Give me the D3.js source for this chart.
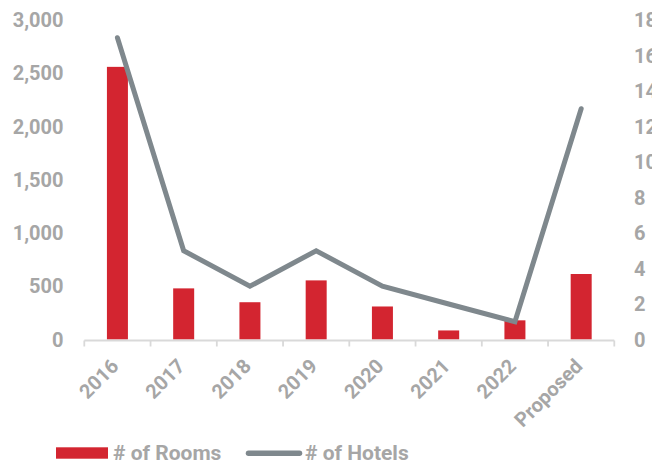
<!DOCTYPE html>
<html><head><meta charset="utf-8">
<script src="https://cdn.jsdelivr.net/npm/d3@7"></script>
<style>body{margin:0;background:#fff}svg{display:block}text{font-family:Roboto,"Liberation Sans",sans-serif;font-weight:bold;fill:#a6a6a6}</style>
</head><body><svg id="c" width="652" height="462"></svg>
<script>
const categories = ["2016","2017","2018","2019","2020","2021","2022","Proposed"];
const rooms = [2560, 480, 350, 555, 310, 85, 180, 615];
const hotels = [17, 5, 3, 5, 3, 2, 1, 13];
const roomTicks = [0,500,1000,1500,2000,2500,3000];
const hotelTicks = [0,2,4,6,8,10,12,14,16,18];

(function(){
const svg = d3.select("#c");
const pL = 84.3, pR = 614.3, pT = 20, pB = 339.5;
const x = d3.scaleBand().domain(categories).range([pL, pR]).paddingInner(0.683).paddingOuter(0.3415);
const xb = d3.scaleBand().domain(categories).range([pL, pR]);
const yL = d3.scaleLinear().domain([0,3000]).range([pB, pT]);
const yR = d3.scaleLinear().domain([0,18]).range([pB, pT]);

// bars
svg.append("g").selectAll("rect").data(rooms).join("rect")
  .attr("x",(d,i)=>x(categories[i])).attr("width",x.bandwidth())
  .attr("y",d=>yL(d)).attr("height",d=>pB-yL(d)).attr("fill","#d32530");

// x axis
const ax = svg.append("g");
ax.append("line").attr("x1",pL).attr("x2",pR).attr("y1",pB+1).attr("y2",pB+1).attr("stroke","#d9d9d9").attr("stroke-width",1.8);
const bounds = categories.map(c=>xb(c)).concat([pR]);
ax.selectAll("line.t").data(bounds).join("line").attr("class","t")
  .attr("x1",d=>d).attr("x2",d=>d).attr("y1",pB+1).attr("y2",pB+7).attr("stroke","#d9d9d9").attr("stroke-width",1.8);
ax.selectAll("text").data(categories).join("text")
  .attr("transform",d=>`translate(${xb(d)+xb.bandwidth()/2+2.5},${pB+28}) rotate(-45)`)
  .attr("text-anchor","end").attr("font-size",20).text(d=>d);

// left axis labels
svg.append("g").selectAll("text").data(roomTicks).join("text")
  .attr("x",63.5).attr("y",d=>yL(d)).attr("dy","0.36em").attr("text-anchor","end").attr("font-size",20)
  .text(d=>d3.format(",")(d));
// right axis labels
svg.append("g").selectAll("text").data(hotelTicks).join("text")
  .attr("x",634).attr("y",d=>yR(d)).attr("dy","0.36em").attr("text-anchor","start").attr("font-size",20)
  .text(d=>d);

// line
const line = d3.line().x((d,i)=>xb(categories[i])+xb.bandwidth()/2).y(d=>yR(d));
svg.append("path").datum(hotels).attr("d",line).attr("fill","none").attr("stroke","#7f888d")
  .attr("stroke-width",5).attr("stroke-linejoin","miter").attr("stroke-linecap","round");

// legend
const lg = svg.append("g");
lg.append("rect").attr("x",56).attr("y",447.3).attr("width",52).attr("height",11.4).attr("fill","#d32530");
lg.append("text").attr("x",113).attr("y",460).attr("font-size",21).text("# of Rooms");
lg.append("line").attr("x1",248.5).attr("x2",299.5).attr("y1",453.3).attr("y2",453.3).attr("stroke","#7f888d").attr("stroke-width",5.5).attr("stroke-linecap","round");
lg.append("text").attr("x",305).attr("y",460).attr("font-size",21).text("# of Hotels");
})();
</script></body></html>
